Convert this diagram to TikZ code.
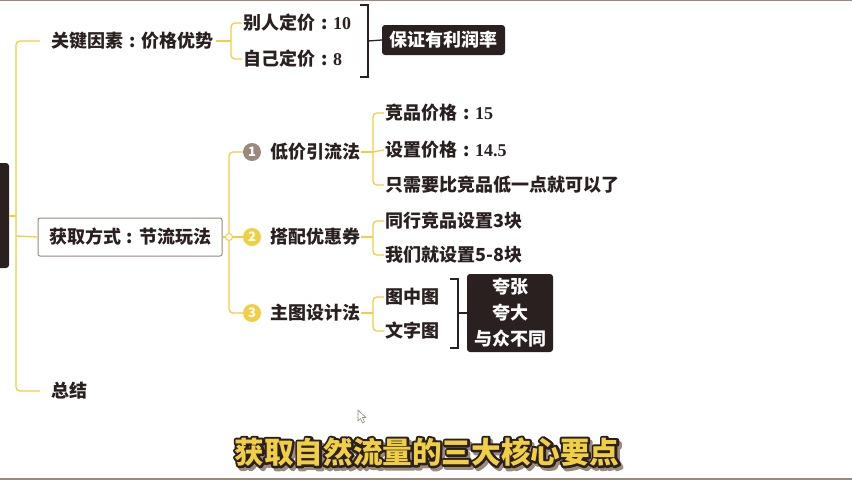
\documentclass[tikz,border=0pt]{standalone}
\usepackage{fontspec}
\setmainfont{Noto Sans CJK SC}
\newfontfamily\numf{Liberation Serif}
\definecolor{txt}{HTML}{2A2020}
\definecolor{yl}{HTML}{F0CF45}
\definecolor{gb}{HTML}{9B8A7C}
\definecolor{dk}{HTML}{2B2020}
\newcommand{\col}{\makebox[1em][c]{:}}
\tikzset{
  lbl/.style={anchor=west,inner sep=1pt,text=txt,font=\fontsize{18}{20}\selectfont\bfseries},
  yline/.style={draw=yl,line width=1.3pt,rounded corners=4pt},
  dline/.style={draw=dk,line width=1.3pt},
  numc/.style={circle,minimum size=18pt,inner sep=0pt,text=white,font=\fontsize{13}{13}\selectfont\bfseries},
  dbox/.style={fill=dk,rounded corners=3pt,text=white,font=\fontsize{18}{26}\selectfont\bfseries,align=center,inner sep=0pt},
}
\newcommand{\subt}{获取自然流量的三大核心要点}
\newcommand{\strk}[2]{\special{pdf:literal direct q #1 RG 4.5 w 1 j 2 Tr}#2\special{pdf:literal direct Q}}
\begin{document}
\begin{tikzpicture}[x=1pt,y=-1pt]
\useasboundingbox (0,0) rectangle (852,480);
\fill[white] (0,0) rectangle (852,480);
% borders
\draw[gb,line width=1.5pt] (0,0.7) -- (852,0.7);
\draw[gb,line width=1.5pt] (0,478.8) -- (852,478.8);
% dark tab
\fill[dk,rounded corners=3pt] (-5,163) rectangle (9,268);
% root
\coordinate (root) at (16,236);
\coordinate (rtop) at (16,216);
\node[lbl] (k1) at (50,41) {关键因素\col 价格优势};
\node[draw=gb,line width=1pt,rounded corners=2pt,fill=white,minimum width=184pt,minimum height=38pt,inner sep=0pt,text=txt,font=\fontsize{18}{20}\selectfont\bfseries] (k2) at (130,237) {获取方式\col 节流玩法};
\node[lbl] (k3) at (50,391) {总结};
\draw[yline] (rtop) |- ([xshift=-10pt]k1.west);
\draw[yline] (rtop) |- ([xshift=-10pt]k3.west);
\draw[yline] (root) -- (k2.west);
\draw[yline] (9,216) -- (rtop);
% branch 1
\node[lbl] (a1) at (242,23) {别人定价\col{\numf 10}};
\node[lbl] (a2) at (242,59) {自己定价\col{\numf 8}};
\coordinate (b1) at (231,41);
\draw[yline] ([xshift=2pt]k1.east) -- (b1);
\draw[yline] (b1) |- (a1.west);
\draw[yline] (b1) |- (a2.west);
\node[dbox,minimum width=123pt,minimum height=30pt] (p1) at (443.5,40) {保证有利润率};
\coordinate (br1) at (368,41);
\draw[dline] (360,5) -- (368,5) -- (368,77) -- (360,77);
\draw[dline] (br1) -- (p1.west);
% branch 2
\coordinate (v2) at (229,237);
\node[numc,fill=gb] (n1) at (252,152) {1};
\node[numc,fill=yl] (n2) at (252,237) {2};
\node[numc,fill=yl] (n3) at (252,313) {3};
\node[lbl] (m1) at (269,152) {低价引流法};
\node[lbl] (m2) at (269,237) {搭配优惠券};
\node[lbl] (m3) at (269,313) {主图设计法};
\draw[yline] (k2.east) -- (v2);
\draw[yline] (v2) |- (n1.west);
\draw[yline] (v2) |- (n3.west);
\draw[yline] (v2) -- (n2.west);
\draw[yl,line width=1pt,fill=white] (v2) circle (3.5pt);
% children of m1
\node[lbl] (c1) at (384,113) {竞品价格\col{\numf 15}};
\node[lbl] (c2) at (384,150) {设置价格\col{\numf 14.5}};
\node[lbl] (c3) at (384,185) {只需要比竞品低一点就可以了};
\coordinate (j1) at (373,152);
\draw[yline] (m1.east) -- (j1);
\draw[yline] (j1) |- (c1.west);
\draw[yline] (j1) |- (c3.west);
\draw[yline] (j1) -- (c2.west);
% children of m2
\node[lbl] (c4) at (384,221) {同行竞品设置3块};
\node[lbl] (c5) at (384,255) {我们就设置5-8块};
\coordinate (j2) at (373,237);
\draw[yline] (m2.east) -- (j2);
\draw[yline] (j2) |- (c4.west);
\draw[yline] (j2) |- (c5.west);
% children of m3
\node[lbl] (c6) at (384,297) {图中图};
\node[lbl] (c7) at (384,331) {文字图};
\coordinate (j3) at (373,313);
\draw[yline] (m3.east) -- (j3);
\draw[yline] (j3) |- (c6.west);
\draw[yline] (j3) |- (c7.west);
\node[dbox,minimum width=86pt,minimum height=78pt] (p2) at (510,313) {夸张\\夸大\\与众不同};
\coordinate (br2) at (458,313);
\draw[dline] (450,279) -- (458,279) -- (458,348) -- (450,348);
\draw[dline] (br2) -- (p2.west);
% cursor
\draw[gb,fill=white,line width=0.6pt,line join=round] (358,410) -- (358,421) -- (360.5,418.5) -- (362.5,423) -- (364.5,422) -- (362.5,417.5) -- (366,417.5) -- cycle;
% subtitle
\begin{scope}[every node/.style={font=\fontsize{29.6}{31}\selectfont\bfseries,inner sep=0pt}]
\node[text=gb] at (429.5,455) {\strk{0.61 0.54 0.49}{\subt}};
\node[text=dk] at (427,452) {\strk{0.17 0.125 0.125}{\subt}};
\node[text=yl] (sub) at (427,452) {\subt};
\end{scope}
\end{tikzpicture}
\end{document}
